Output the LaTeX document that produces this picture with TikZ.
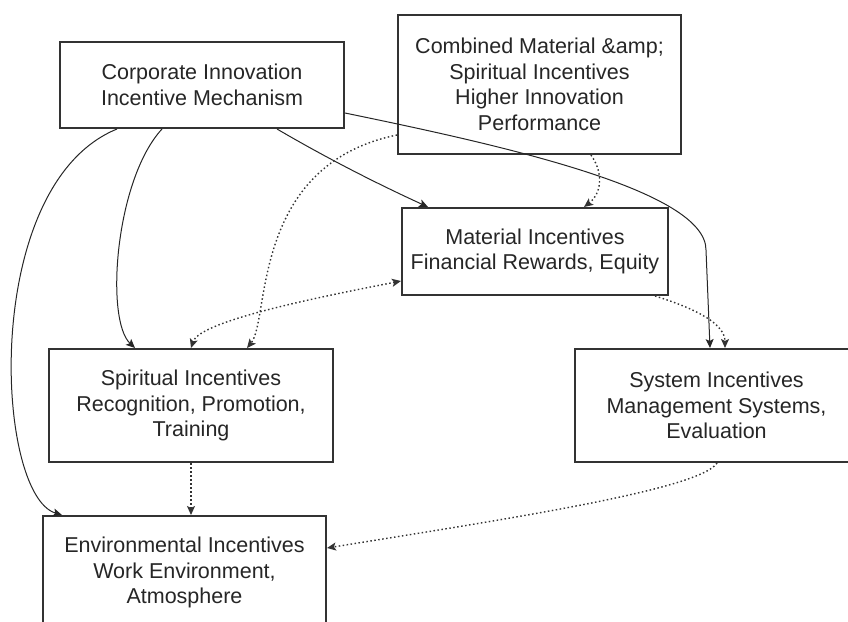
\documentclass[tikz,border=0pt]{standalone}
\usepackage{fontspec}
\setmainfont{Liberation Sans}
\usetikzlibrary{arrows.meta}
\begin{document}
\begin{tikzpicture}
  [x=1pt,y=-1pt,
   every node/.style={draw=black!80, line width=2pt, fill=white, align=center,
     text=black!85, font=\fontsize{21.5}{25.5}\selectfont,
     minimum width=283pt, minimum height=113pt, inner sep=0pt},
   link/.style={draw=black!85, line width=1pt, -{Stealth[length=9pt,width=8pt,inset=2pt]}},
   dots/.style={link, draw=black!80, line width=1.4pt, dash pattern=on 1.5pt off 2.5pt}]
  \useasboundingbox (0,0) rectangle (848,621);
  \clip (0,0) rectangle (848,621);
  \node (corp) at (202, 85) [minimum width=284pt, minimum height=86pt] {Corporate Innovation\\Incentive Mechanism};
  \node (comb) at (539.5, 84.5) [minimum height=139pt] {Combined Material \&amp;\\Spiritual Incentives\\Higher Innovation\\Performance};
  \node (mat) at (535, 251.5) [minimum width=266pt, minimum height=87pt] {Material Incentives\\Financial Rewards, Equity};
  \node (spir) at (191, 405.5) [minimum width=284pt] {Spiritual Incentives\\Recognition, Promotion,\\Training};
  \node (sys) at (716.5, 405.5) {System Incentives\\Management Systems,\\Evaluation};
  \node (env) at (184.5, 572.5) {Environmental Incentives\\Work Environment,\\Atmosphere};

  % solid links from the mechanism
  \draw[link] ([xshift=-85pt]corp.south) .. controls (-20,185) and (-5,495) .. ([xshift=-122.5pt]env.north);
  \draw[link] ([xshift=-40pt]corp.south) .. controls (115,180) and (105,320) .. ([xshift=-56pt]spir.north);
  \draw[link] ([xshift=75pt]corp.south) .. controls (330,160) and (380,185) .. ([xshift=-107pt]mat.north);
  \draw[link] ([yshift=-28pt]corp.east) .. controls (500,145) and (706,190) .. (706,250) -- ([xshift=-6.5pt]sys.north);

  % dotted links
  \draw[dots] ([yshift=-50.5pt]comb.west) .. controls (250,165) and (270,320) .. ([xshift=56pt]spir.north);
  \draw[dots] ([xshift=51.5pt]comb.south) .. controls (605,175) and (600,195) .. ([xshift=49pt]mat.north);
  \draw[dots, {Stealth[length=9pt,width=8pt,inset=2pt]}-{Stealth[length=9pt,width=8pt,inset=2pt]}] ([yshift=-29.5pt]mat.west) .. controls (330,295) and (200,320) .. (spir.north);
  \draw[dots] ([xshift=120pt]mat.south) .. controls (700,310) and (725,325) .. ([xshift=8.5pt]sys.north);
  \draw[dots] (spir.south) -- ([xshift=6.5pt]env.north);
  \draw[dots] ([xshift=0.5pt]sys.south) .. controls (700,490) and (500,520) .. ([yshift=24.5pt]env.east);
\end{tikzpicture}
\end{document}
